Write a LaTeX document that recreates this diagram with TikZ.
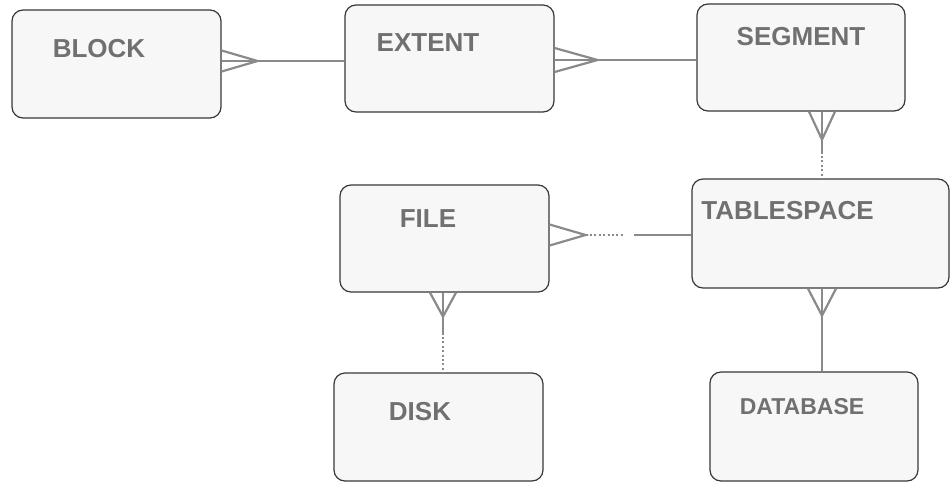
\documentclass[tikz,border=0pt]{standalone}
\usepackage{fontspec}
\setmainfont{Liberation Sans}
\usetikzlibrary{calc}
\definecolor{boxfill}{HTML}{F7F7F7}
\definecolor{boxline}{HTML}{383838}
\definecolor{linkgray}{HTML}{8A8A8A}
\definecolor{textgray}{HTML}{707070}
\tikzset{
  entity/.style={draw=boxline,line width=1.2pt,fill=boxfill,rounded corners=11pt,inner sep=0pt},
  entname/.style={text=textgray,inner sep=0pt,font=\bfseries\fontsize{26}{30}\selectfont},
  link/.style={draw=linkgray,line width=2.2pt},
  dotlink/.style={link,dash pattern=on 2pt off 2.4pt}
}
\begin{document}
\begin{tikzpicture}[x=1pt,y=-1pt]
  \useasboundingbox (0,0) rectangle (951,482);
  % entities
  \node[entity,minimum width=209pt,minimum height=108pt](block)at(116.5,64){};
  \node[entity,minimum width=209pt,minimum height=107pt](extent)at(449.5,58.5){};
  \node[entity,minimum width=208pt,minimum height=107pt](segment)at(801,57.5){};
  \node[entity,minimum width=257pt,minimum height=109pt](tablespace)at(820.5,233.5){};
  \node[entity,minimum width=209pt,minimum height=107pt](file)at(444.5,238.5){};
  \node[entity,minimum width=209pt,minimum height=108pt](disk)at(438.5,427){};
  \node[entity,minimum width=208pt,minimum height=109pt](database)at(814,426.5){};
  \foreach \N/\T/\P in{block/BLOCK/{(99,49)}, extent/EXTENT/{(428,42.5)}, segment/SEGMENT/{(801,36.5)},
                       tablespace/TABLESPACE/{(787.5,211)}, file/FILE/{(428,219)}, disk/DISK/{(420,412)}}{
    \node[entname](\N-name)at\P{\T};
  }
  \node[entname,font=\bfseries\fontsize{23}{27}\selectfont](database-name)at(802,407){DATABASE};
  % block -- extent
  \coordinate(b1)at([yshift=3pt]block.east);
  \draw[link](b1)--(extent.west|-b1);
  \draw[link]($(b1)+(0,-10.5)$)--($(b1)+(36,0)$)--($(b1)+(0,10.5)$);
  % extent -- segment
  \coordinate(e1)at([yshift=-1.5pt]extent.east);
  \draw[link](e1)--(segment.west|-e1);
  \draw[link]($(e1)+(0,-12)$)--($(e1)+(43,0)$)--($(e1)+(0,12)$);
  % segment -- tablespace
  \coordinate(s1)at([xshift=21pt]segment.south);
  \coordinate(s2)at($(s1)+(0,40)$);
  \draw[link](s1)--(s2);
  \draw[dotlink](s2)--(tablespace.north-|s1);
  \draw[link]($(s1)+(-13,0)$)--($(s1)+(0,28)$)--($(s1)+(13,0)$);
  % file -- tablespace
  \coordinate(f1)at([yshift=3.5pt]file.east);
  \coordinate(f2)at($(f1)+(36,0)$);
  \coordinate(f3)at($(f1)+(74,0)$);
  \coordinate(f4)at($(f1)+(84,0)$);
  \draw[dotlink](f2)--(f3);
  \draw[link](f4)--(tablespace.west|-f1);
  \draw[link]($(f1)+(0,-10.5)$)--(f2)--($(f1)+(0,10.5)$);
  % file -- disk
  \coordinate(d1)at([xshift=-1.5pt]file.south);
  \coordinate(d2)at($(d1)+(0,40)$);
  \draw[link](d1)--(d2);
  \draw[dotlink](d2)--(disk.north-|d1);
  \draw[link]($(d1)+(-13,0)$)--($(d1)+(0,24)$)--($(d1)+(13,0)$);
  % tablespace -- database
  \coordinate(t1)at([xshift=1.5pt]tablespace.south);
  \draw[link](t1)--(database.north-|t1);
  \draw[link]($(t1)+(-14,0)$)--($(t1)+(0,27)$)--($(t1)+(14,0)$);
\end{tikzpicture}
\end{document}
